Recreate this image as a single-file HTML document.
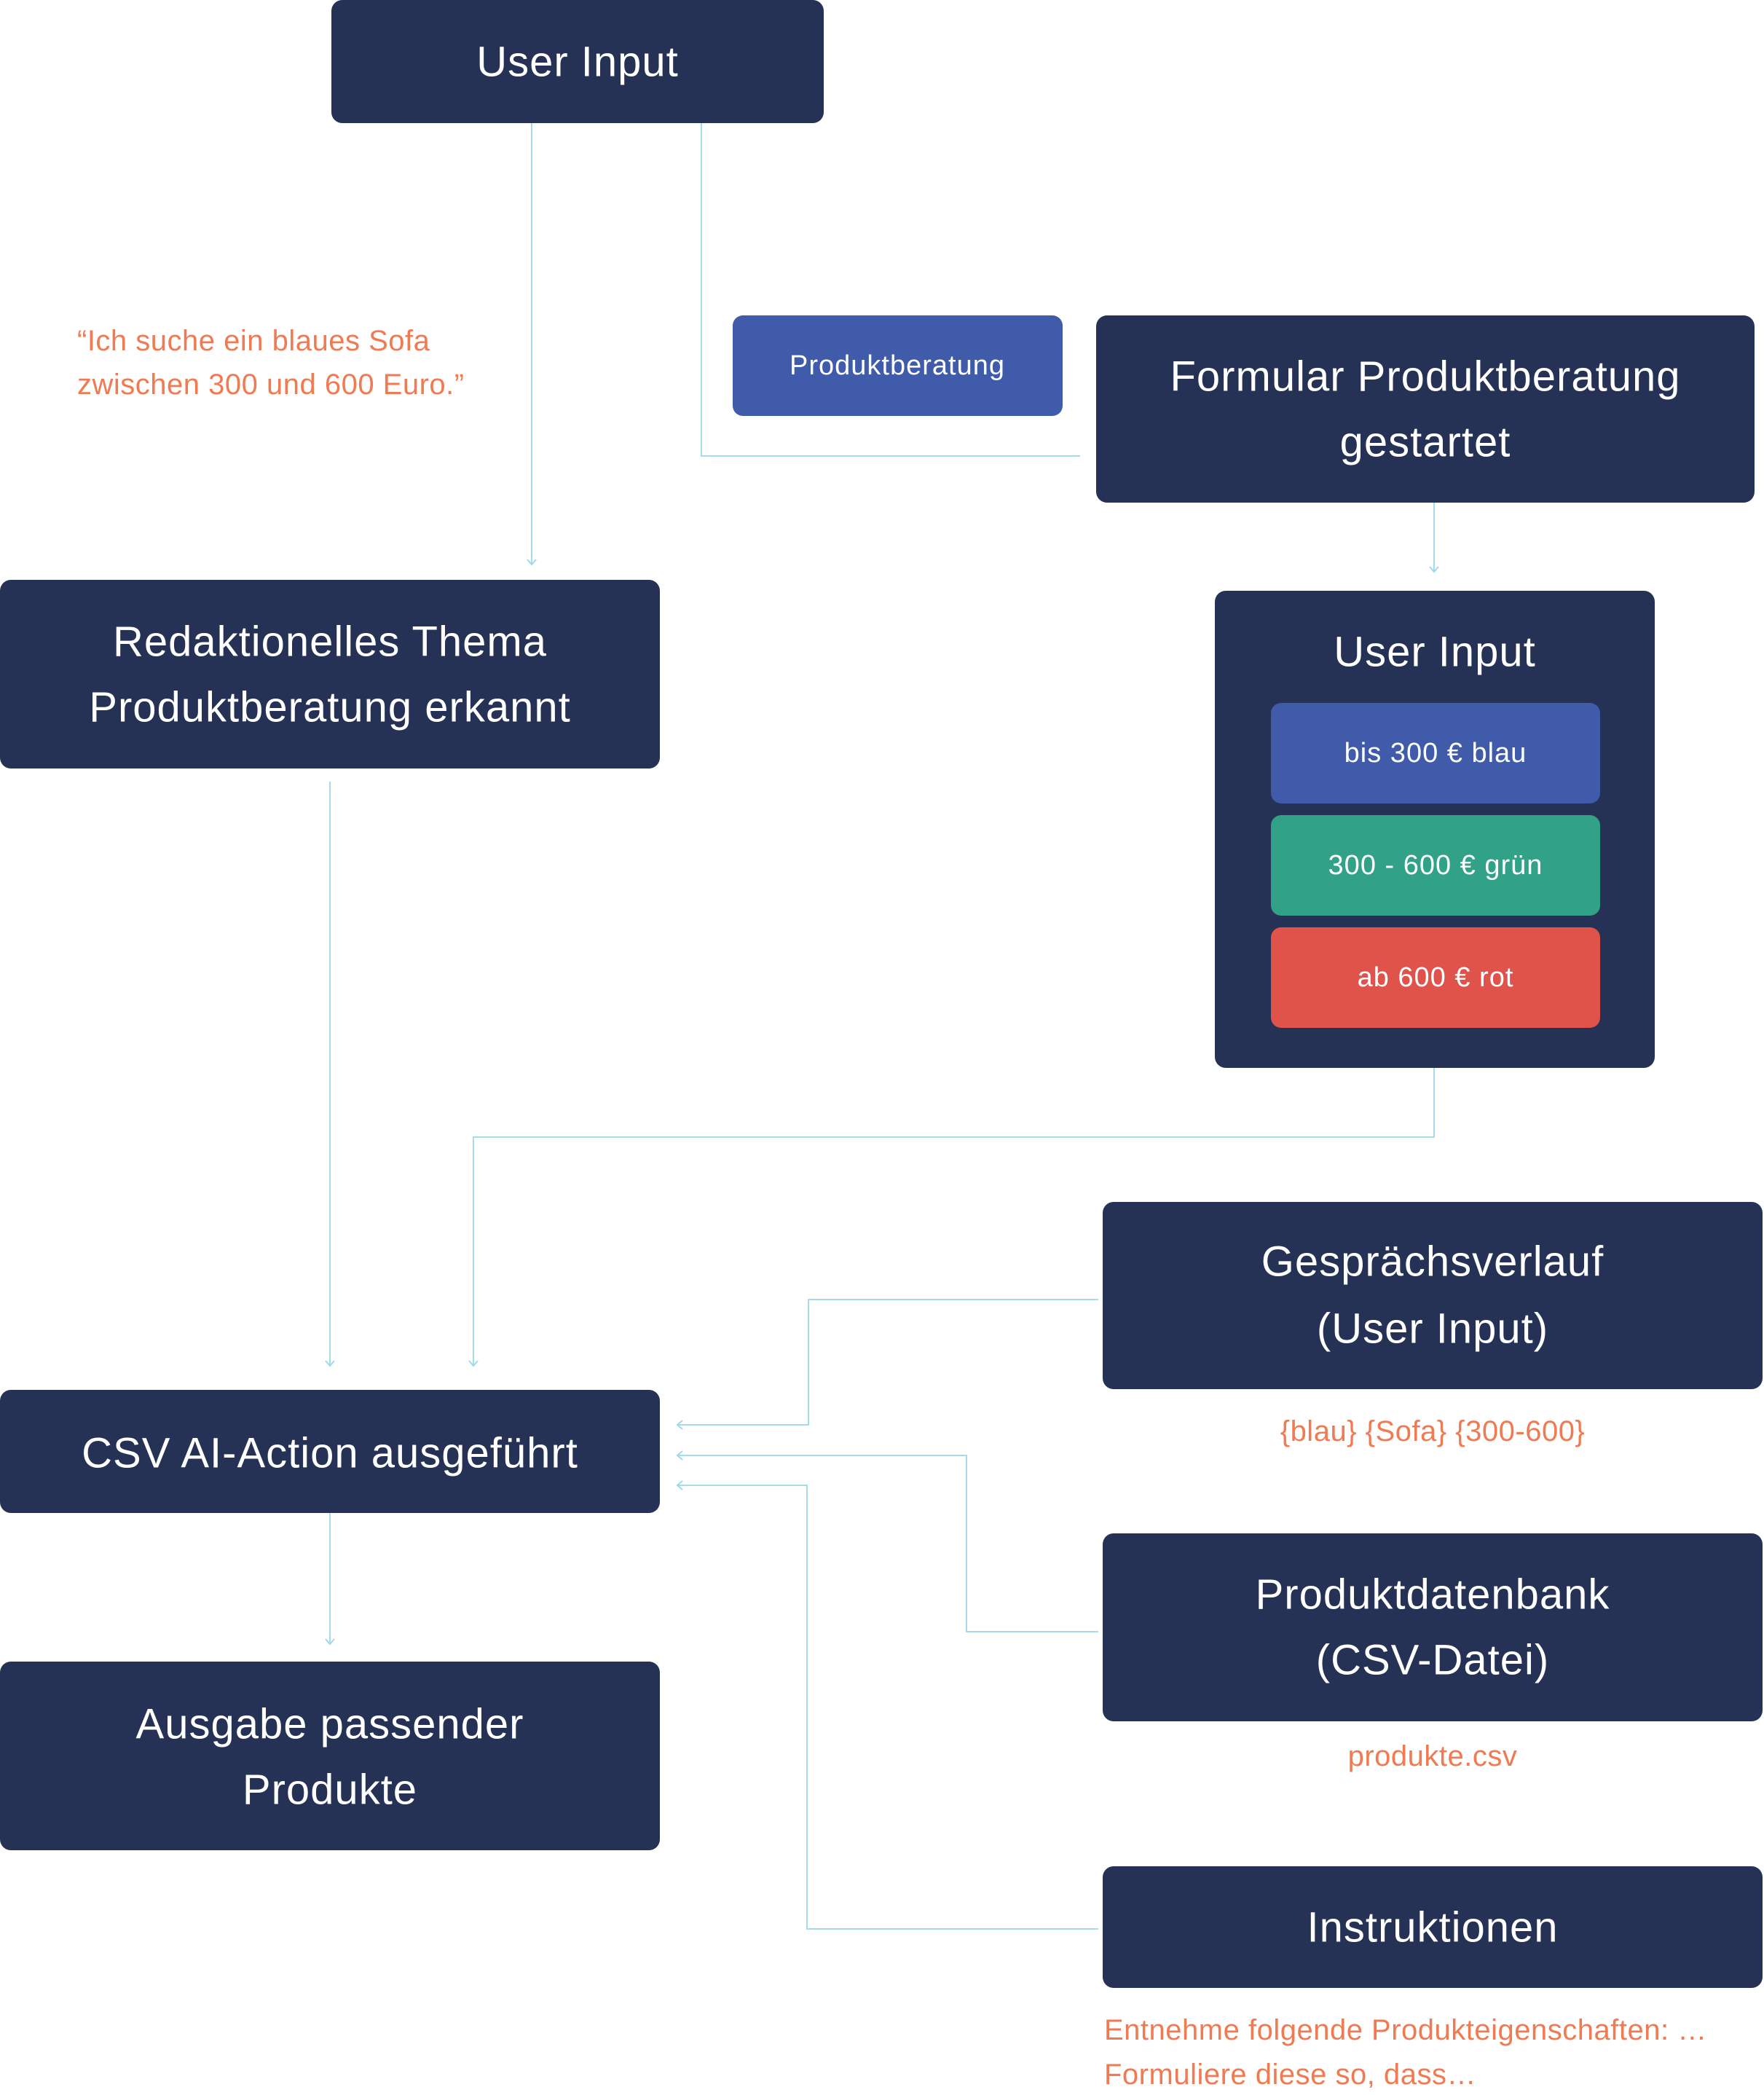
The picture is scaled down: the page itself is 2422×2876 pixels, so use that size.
<!DOCTYPE html>
<html><head><meta charset="utf-8"><style>
html,body{margin:0;padding:0;background:#fff;}
svg{display:block;}
text{font-family:"Liberation Sans",sans-serif;}
</style></head><body>
<svg width="2422" height="2876" viewBox="0 0 2422 2876" xmlns="http://www.w3.org/2000/svg">
<defs>
<marker id="ar" markerWidth="20" markerHeight="20" refX="10" refY="10" orient="auto" markerUnits="userSpaceOnUse">
<path d="M3,4 L10,10 L3,16" fill="none" stroke="#9fd8ea" stroke-width="2"/>
</marker>
</defs>
<g fill="none" stroke="#a6dbeb" stroke-width="2">
<path d="M730,169 V775" marker-end="url(#ar)"/>
<path d="M963,169 V626 H1483"/>
<path d="M1969,690 V785" marker-end="url(#ar)"/>
<path d="M1969,1466 V1561 H650 V1875" marker-end="url(#ar)"/>
<path d="M453,1073 V1875" marker-end="url(#ar)"/>
<path d="M453,2077 V2257" marker-end="url(#ar)"/>
<path d="M1508,1784 H1110 V1956 H930" marker-end="url(#ar)"/>
<path d="M1508,2240 H1327 V1998 H930" marker-end="url(#ar)"/>
<path d="M1508,2648 H1108 V2039 H930" marker-end="url(#ar)"/>
</g>
<g fill="#253255">
<rect x="455" y="0" width="676" height="169" rx="15"/>
<rect x="1505" y="433" width="904" height="257" rx="15"/>
<rect x="1668" y="811" width="604" height="655" rx="15"/>
<rect x="0" y="796" width="906" height="259" rx="15"/>
<rect x="0" y="1908" width="906" height="169" rx="15"/>
<rect x="0" y="2281" width="906" height="259" rx="15"/>
<rect x="1514" y="1650" width="906" height="257" rx="15"/>
<rect x="1514" y="2105" width="906" height="258" rx="15"/>
<rect x="1514" y="2562" width="906" height="167" rx="15"/>
</g>
<rect x="1006" y="433" width="453" height="138" rx="14" fill="#3f5ba9"/>
<rect x="1745" y="965" width="452" height="138" rx="14" fill="#3f5ba9"/>
<rect x="1745" y="1119" width="452" height="138" rx="14" fill="#31a287"/>
<rect x="1745" y="1273" width="452" height="138" rx="14" fill="#df534a"/>
<g fill="#fff" text-anchor="middle" font-size="58" dominant-baseline="central" letter-spacing="1">
<text x="793" y="85">User Input</text>
<text x="1957" y="517">Formular Produktberatung</text>
<text x="1957" y="607">gestartet</text>
<text x="1970" y="895">User Input</text>
<text x="453" y="881">Redaktionelles Thema</text>
<text x="453" y="971">Produktberatung erkannt</text>
<text x="453" y="1995">CSV AI-Action ausgeführt</text>
<text x="453" y="2367">Ausgabe passender</text>
<text x="453" y="2457">Produkte</text>
<text x="1967" y="1732">Gesprächsverlauf</text>
<text x="1967" y="1824">(User Input)</text>
<text x="1967" y="2189">Produktdatenbank</text>
<text x="1967" y="2279">(CSV-Datei)</text>
<text x="1967" y="2646">Instruktionen</text>
</g>
<g fill="#fff" text-anchor="middle" font-size="38" dominant-baseline="central" letter-spacing="1">
<text x="1232" y="502">Produktberatung</text>
<text x="1971" y="1034">bis 300 € blau</text>
<text x="1971" y="1188">300 - 600 € grün</text>
<text x="1971" y="1342">ab 600 € rot</text>
</g>
<g fill="#f07a52" font-size="40" dominant-baseline="central" letter-spacing="0.5">
<text x="106" y="468">“Ich suche ein blaues Sofa</text>
<text x="106" y="528">zwischen 300 und 600 Euro.”</text>
<text x="1967" y="1965" text-anchor="middle">{blau} {Sofa} {300-600}</text>
<text x="1967" y="2411" text-anchor="middle">produkte.csv</text>
<text x="1516" y="2787">Entnehme folgende Produkteigenschaften: …</text>
<text x="1516" y="2848">Formuliere diese so, dass…</text>
</g>
</svg>
</body></html>
